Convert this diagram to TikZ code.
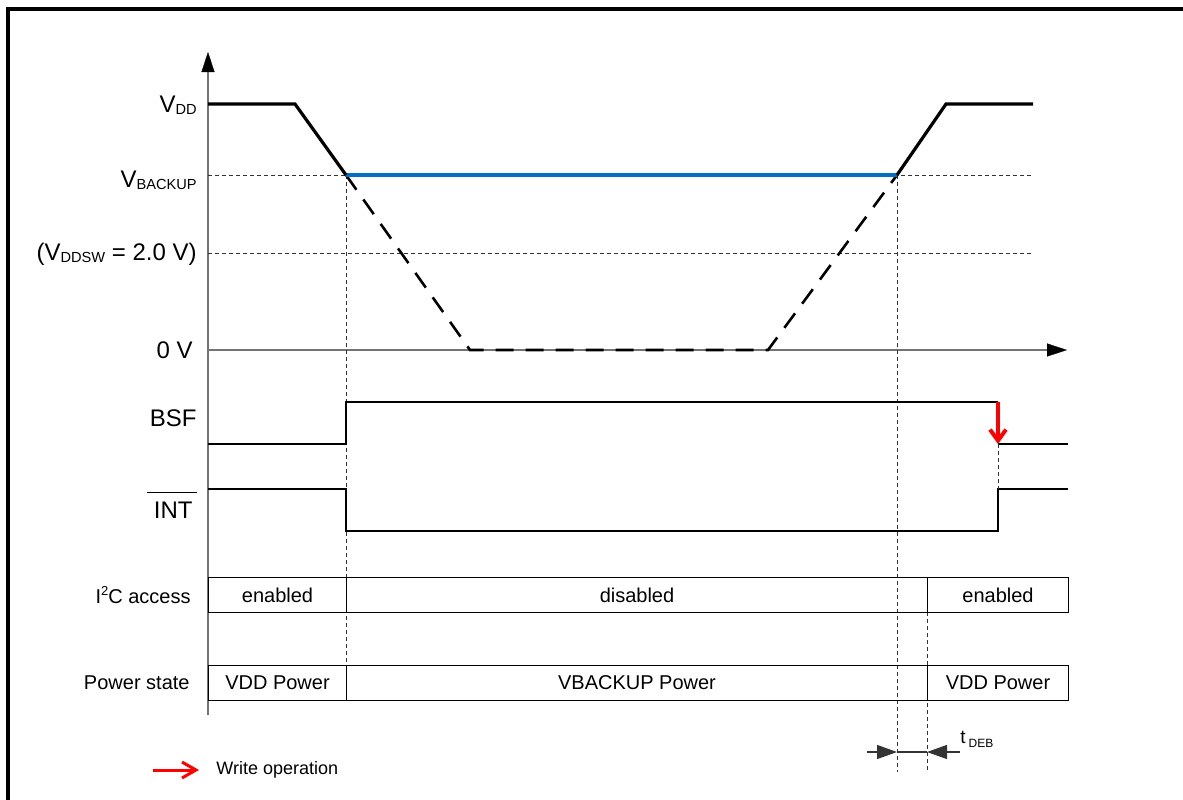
\documentclass[tikz,border=0pt]{standalone}
\usepackage{fontspec}
\setmainfont{Liberation Sans}
\usetikzlibrary{arrows.meta}
\definecolor{vblue}{RGB}{0,112,192}
\definecolor{wred}{RGB}{255,0,0}
\newcommand\lsub[1]{\raisebox{-1pt}{\fontsize{7.3}{8}\selectfont #1}}
\newcommand\lsup[1]{\raisebox{3.6pt}{\fontsize{6.5}{7}\selectfont #1}}
\begin{document}
\begin{tikzpicture}[x=0.5pt,y=-0.5pt,
  txt/.style={font=\fontsize{10}{12}\selectfont,inner sep=0pt},
  big/.style={font=\fontsize{12}{14}\selectfont,inner sep=0pt,anchor=east},
  lbl/.style={txt,anchor=east},
  axis/.style={line width=0.7pt,black!55},
  axtip/.style={-{Triangle[length=10pt,width=6.5pt]},black},
  guide/.style={line width=0.5pt,black!80,dash pattern=on 2pt off 1.5pt},
  vddline/.style={line width=1.6pt,black},
  vddhid/.style={line width=1.3pt,black,dash pattern=on 9pt off 6pt},
  sig/.style={line width=1.3pt,black},
  cell/.style={draw,line width=0.5pt,txt,minimum height=17.5pt,anchor=north west,inner sep=0pt},
  wop/.style={wred,line width=2pt,-{Straight Barb[length=5.5pt,width=8pt]}},
  legarrow/.style={wred,line width=1.5pt,-{Straight Barb[length=7pt,width=8pt]}},
  dimtip/.style={-{Triangle[length=10pt,width=7pt]},line width=0.6pt,black!80}
]
\useasboundingbox (0,0) rectangle (1183,799);
% frame
\coordinate (fb) at (8,805);
\coordinate (fc) at (8,9);
\coordinate (fr) at (1190,9);
\draw[line width=2pt,line join=miter] (fb) -- (fc) -- (fr);

% axes
\coordinate (yax0) at (208,715);
\coordinate (yaxtop) at (208,52);
\coordinate (xax0) at (208,350);
\coordinate (xaxend) at (1067,350);
\draw[axis] (yax0) -- (208,70);
\draw[axtip,line width=0.1pt] (208,70) -- (yaxtop);
\draw[axis] (xax0) -- (1050,350);
\draw[axtip,line width=0.1pt] (1050,350) -- (xaxend);

% guide lines
\coordinate (g1a) at (208,175);
\coordinate (g1b) at (1033,175);
\coordinate (g2a) at (208,253);
\coordinate (g2b) at (1033,253);
\draw[guide] (g1a) -- (g1b);
\draw[guide] (g2a) -- (g2b);

% VDD curve points
\coordinate (v0) at (208,104);
\coordinate (v1) at (295,104);
\coordinate (vb1) at (346,175);
\coordinate (z1) at (470,350);
\coordinate (z2) at (768,350);
\coordinate (vb2) at (897,175);
\coordinate (v2) at (946,104);
\coordinate (v3) at (1033,104);

% vertical guides
\coordinate (vg1) at (346,700);
\coordinate (vg2) at (897,772);
\coordinate (vg3a) at (927,612);
\coordinate (vg3b) at (927,772);
\draw[guide] (vb1) -- (vg1);
\draw[guide] (vb2) -- (vg2);
\draw[guide] (vg3a) -- (vg3b);

\draw[vddhid] (vb1) -- (z1) -- (z2) -- (vb2);
\draw[line width=1.6pt,vblue] (vb1) -- (vb2);
\draw[vddline,line join=miter] (v0) -- (v1) -- (vb1);
\draw[vddline,line join=miter] (vb2) -- (v2) -- (v3);

% labels
\node[big] (lvdd) at (197,105) {V\lsub{DD}};
\node[big] (lvb) at (197,180) {V\lsub{BACKUP}};
\node[big] (lvsw) at (197,254) {(V\lsub{DDSW} = 2.0 V)};
\node[big] (l0v) at (193,350) {0 V};
\node[big] (lbsf) at (197,418) {BSF};
\node[big] (lint) at (193,510) {INT};
\coordinate (ol1) at ([shift={(-7,-9)}]lint.north west);
\coordinate (ol2) at ([shift={(4,-9)}]lint.north east);
\draw[line width=0.7pt] (ol1) -- (ol2);

% BSF
\coordinate (b0) at (208,444);
\coordinate (b1) at (346,444);
\coordinate (b2) at (346,402);
\coordinate (b3) at (998,402);
\coordinate (b4) at (998,444);
\coordinate (b5) at (1068,444);
\draw[sig,line join=miter] (b0) -- (b1) -- (b2) -- (b3);
\draw[sig] (b4) -- (b5);

% INT
\coordinate (i0) at (208,489);
\coordinate (i1) at (346,489);
\coordinate (i2) at (346,531);
\coordinate (i3) at (998,531);
\coordinate (i4) at (998,489);
\coordinate (i5) at (1068,489);
\draw[sig,line join=miter] (i0) -- (i1) -- (i2) -- (i3) -- (i4) -- (i5);
\draw[guide] (b4) -- (i4);
\draw[wop] (b3) -- (b4);

% table rows
\node[lbl] (li2c) at (191,595) {I\lsup{2}C access};
\node[lbl] (lpow) at (190,683) {Power state};
\node[cell,minimum width=69pt] (c1) at (208,577) {enabled};
\node[cell,minimum width=290.5pt] (c2) at (346,577) {disabled};
\node[cell,minimum width=70.5pt] (c3) at (927,577) {enabled};
\node[cell,minimum width=69pt] (p1) at (208,665) {VDD Power};
\node[cell,minimum width=290.5pt] (p2) at (346,665) {VBACKUP Power};
\node[cell,minimum width=70.5pt] (p3) at (927,665) {VDD Power};

% tDEB
\coordinate (t1) at (867,752);
\coordinate (d1) at (897,752);
\coordinate (d2) at (927,752);
\coordinate (t2) at (960,752);
\draw[dimtip] (t1) -- (d1);
\draw[dimtip] (t2) -- (d2);
\draw[line width=0.6pt,black!80] (d1) -- (d2);
\node[anchor=base west,inner sep=0pt,font=\fontsize{9.5}{11}\selectfont] (tdeb) at (960,743) {t\hspace{1.5pt}\raisebox{-2pt}{\fontsize{6}{7}\selectfont DEB}};

% legend
\coordinate (la) at (153,770);
\coordinate (lb) at (199,770);
\draw[legarrow] (la) -- (lb);
\node[anchor=west,inner sep=0pt,font=\fontsize{9}{11}\selectfont] (lwop) at (216,770) {Write operation};
\end{tikzpicture}
\end{document}
